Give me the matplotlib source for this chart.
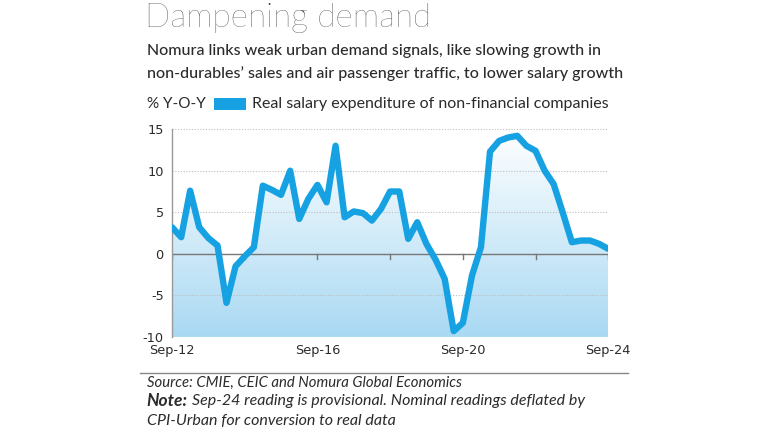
import matplotlib
matplotlib.use('Agg')
import matplotlib.pyplot as plt
from matplotlib.colors import LinearSegmentedColormap
from matplotlib.patches import Rectangle
import numpy as np
import pandas as pd

# quarterly readings, Sep-12 .. Sep-24 (% Y-O-Y)
quarters = pd.date_range('2012-09-30', periods=49, freq='QE')
salary_growth = [3.2, 2.0, 7.6, 3.2, 1.9, 1.0, -5.9, -1.5, -0.3, 0.8,
                 8.2, 7.7, 7.1, 10.0, 4.2, 6.6, 8.3, 6.2, 13.0, 4.4,
                 5.1, 4.9, 4.0, 5.4, 7.5, 7.5, 1.8, 3.8, 1.2, -0.7,
                 -3.0, -9.3, -8.3, -2.6, 0.8, 12.3, 13.6, 14.0, 14.2, 13.0,
                 12.4, 10.0, 8.4, 5.0, 1.4, 1.6, 1.6, 1.2, 0.6]
tick_dates = pd.to_datetime(['2012-09-30', '2014-09-30', '2016-09-30', '2018-09-30',
                             '2020-09-30', '2022-09-30', '2024-09-30'])
tick_labels = ['Sep-12', '', 'Sep-16', '', 'Sep-20', '', 'Sep-24']
y_ticks = [-10, -5, 0, 5, 10, 15]

line_color = '#16a2e2'
text_color = '#2b2b2b'

fig = plt.figure(figsize=(7.68, 4.32), dpi=100)
ax = fig.add_axes([0.224, 0.22, 0.568, 0.481])

x = matplotlib.dates.date2num(quarters)
y = np.array(salary_growth)
ymin, ymax = -10, 15

# gradient fill under the line
cmap = LinearSegmentedColormap.from_list('grad', ['#ffffff', '#a9d9f3'])
grad = np.linspace(0, 1, 256).reshape(-1, 1)
img = ax.imshow(grad, cmap=cmap, aspect='auto', origin='upper',
                extent=[x[0], x[-1], ymin, ymax], zorder=1)
poly = ax.fill_between(x, y, ymin, color='none', linewidth=0)
img.set_clip_path(poly.get_paths()[0], ax.transData)

ax.plot(x, y, color=line_color, linewidth=4.6, solid_joinstyle='round',
        solid_capstyle='round', zorder=3)

for v in [-10, -5, 5, 10, 15]:
    ax.axhline(v, color='#bdbdbd', linewidth=0.8, linestyle=(0, (1, 1.5)), zorder=2)
ax.axhline(0, color='#777777', linewidth=1.0, zorder=2)
for d in tick_dates:
    ax.plot([matplotlib.dates.date2num(d)] * 2, [0, -0.6], color='#777777',
            linewidth=1.0, zorder=2)

ax.set_xlim(x[0], x[-1])
ax.set_ylim(ymin, ymax)
ax.set_yticks(y_ticks)
ax.set_yticklabels([str(v) for v in y_ticks], fontsize=9.3, color=text_color,
                   family='DejaVu Sans')
ax.set_xticks(matplotlib.dates.date2num(tick_dates))
ax.set_xticklabels(tick_labels, fontsize=9.3, color=text_color, family='DejaVu Sans')
ax.tick_params(axis='both', length=0, pad=5)
ax.tick_params(axis='y', pad=6)
for s in ['top', 'right', 'bottom']:
    ax.spines[s].set_visible(False)
ax.spines['left'].set_color('#999999')
ax.spines['left'].set_linewidth(1.0)

# titles
fig.text(0.189, 0.9375, 'Dampening demand', fontsize=24, family='Lato',
         weight='light', color=text_color, va='baseline', ha='left')
fig.text(0.191, 0.873, 'Nomura links weak urban demand signals, like slowing growth in',
         fontsize=11.5, family='Lato', weight='medium', color=text_color,
         va='baseline', ha='left')
fig.text(0.191, 0.819, 'non-durables\u2019 sales and air passenger traffic, to lower salary growth',
         fontsize=11.5, family='Lato', weight='medium', color=text_color,
         va='baseline', ha='left')

# legend row
fig.text(0.191, 0.76, '% Y-O-Y', fontsize=11, family='Lato', color=text_color,
         va='center', ha='left')
fig.patches.append(Rectangle((0.279, 0.745), 0.041, 0.028, transform=fig.transFigure,
                             facecolor=line_color, edgecolor='none'))
fig.text(0.328, 0.76, 'Real salary expenditure of non-financial companies',
         fontsize=11.5, family='Lato', color=text_color, va='center', ha='left')

# footer
fig.add_artist(plt.Line2D([0.182, 0.818], [0.137, 0.137], color='#888888',
                          linewidth=1.0, transform=fig.transFigure))
fig.text(0.191, 0.113, 'Source: CMIE, CEIC and Nomura Global Economics', fontsize=10.7,
         family='Lato', style='italic', color=text_color, va='center', ha='left')
fig.text(0.191, 0.072, 'Note:', fontsize=12.5, family='Lato', style='italic',
         weight='bold', color=text_color, va='center', ha='left')
fig.text(0.25, 0.072, 'Sep-24 reading is provisional. Nominal readings deflated by',
         fontsize=11.5, family='Lato', style='italic', color=text_color,
         va='center', ha='left')
fig.text(0.191, 0.025, 'CPI-Urban for conversion to real data', fontsize=11.5,
         family='Lato', style='italic', color=text_color, va='center', ha='left')

fig.savefig('out.png', dpi=100)
